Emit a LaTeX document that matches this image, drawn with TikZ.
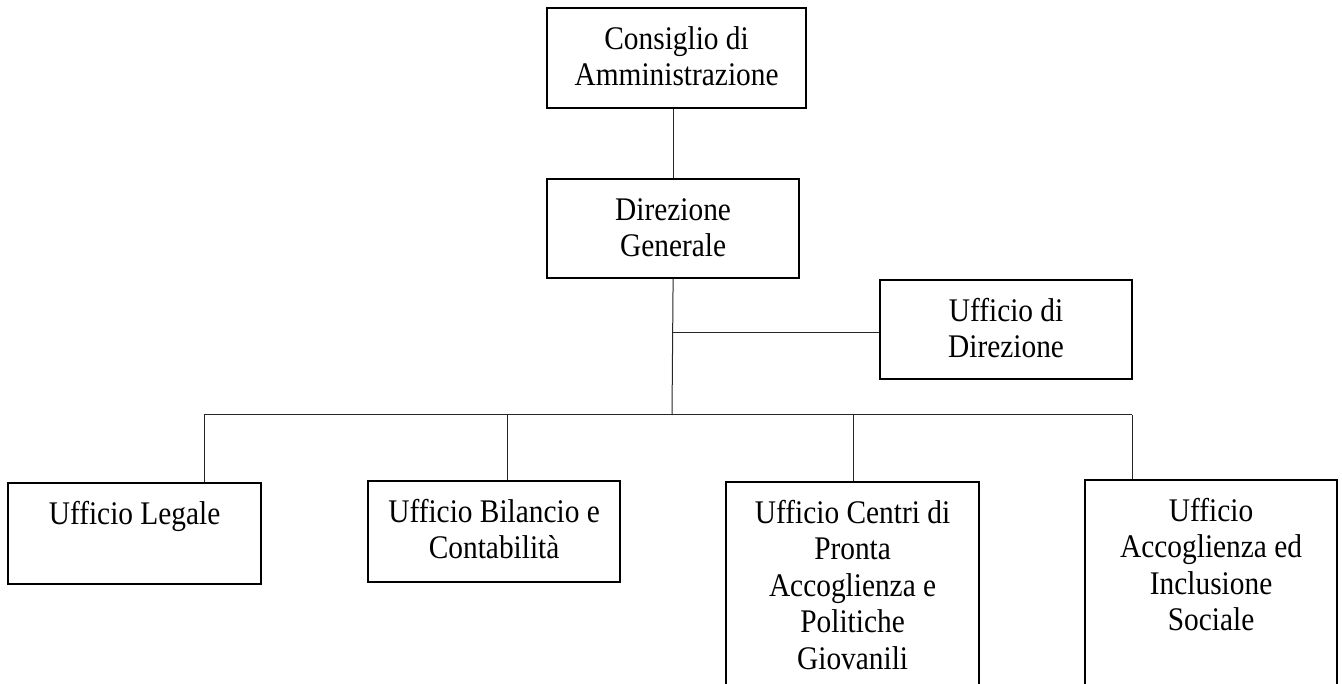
\documentclass[tikz,border=0pt]{standalone}
\usepackage{fontspec}
\setmainfont[FakeStretch=0.89]{Liberation Serif}
\newcommand\orgtext[3]{\parbox[t][#2][t]{#1}{\centering\fontsize{33pt}{36.5pt}\selectfont\rule{0pt}{41pt}#3}}
\begin{document}
\begin{tikzpicture}[x=1pt,y=-1pt,
  orgbox/.style={draw=black, line width=2.2pt, inner sep=0pt, anchor=north west},
  link/.style={draw=black!85, line width=1pt}]
\path[use as bounding box] (0,0) rectangle (1342,684);
\clip (0,0) rectangle (1342,684);
\node[orgbox] (cda) at (546,7) {\orgtext{259pt}{100pt}{Consiglio di\\Amministrazione}};
\node[orgbox] (dg) at (546,178) {\orgtext{252pt}{99pt}{Direzione\\Generale}};
\node[orgbox] (ud) at (879,279) {\orgtext{252pt}{99pt}{Ufficio di\\Direzione}};
\node[orgbox] (ul) at (7,482) {\orgtext{253pt}{101pt}{Ufficio Legale}};
\node[orgbox] (ub) at (367,480) {\orgtext{252pt}{101pt}{Ufficio Bilancio e\\Contabilità}};
\node[orgbox] (uc) at (725,481) {\orgtext{253pt}{260pt}{Ufficio Centri di\\Pronta\\Accoglienza e\\Politiche\\Giovanili}};
\node[orgbox] (ua) at (1084,479) {\orgtext{252pt}{260pt}{Ufficio\\Accoglienza ed\\Inclusione\\Sociale}};
\coordinate (jd) at (672,333);
\coordinate (bus) at (672,415);
\coordinate (bl) at (204,415);
\coordinate (bb) at (507,415);
\coordinate (bc) at (853,415);
\coordinate (ba) at (1132,415);
\draw[link] (dg.north) -- (dg.north |- cda.south);
\draw[link] (dg.south) -- (bus);
\draw[link] (jd) -- (jd -| ud.west);
\draw[link] (bl) -- (ba);
\draw[link] (bl) -- (bl |- ul.north);
\draw[link] (bb) -- (bb |- ub.north);
\draw[link] (bc) -- (bc |- uc.north);
\draw[link] (ba) -- (ba |- ua.north);
\end{tikzpicture}
\end{document}
